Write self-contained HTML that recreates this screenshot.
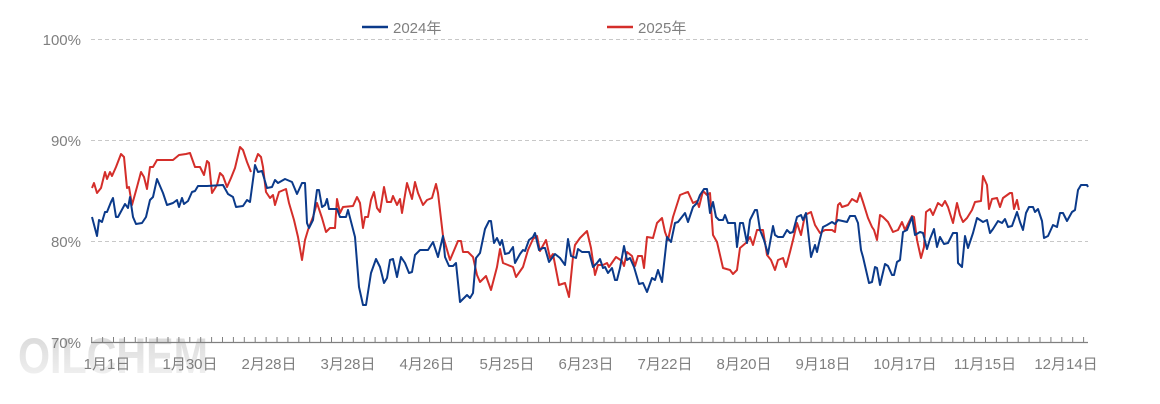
<!DOCTYPE html>
<html><head><meta charset="utf-8"><style>
html,body{margin:0;padding:0;background:#fff;}
svg{display:block;font-family:"Liberation Sans","Noto Sans CJK SC",sans-serif;}
</style></head><body>
<svg width="1160" height="404" viewBox="0 0 1160 404" xmlns="http://www.w3.org/2000/svg">
<defs><linearGradient id="wm" x1="0" y1="0" x2="0" y2="1"><stop offset="0" stop-color="#d6d6d6"/><stop offset="1" stop-color="#f4f4f4"/></linearGradient></defs>
<text x="18" y="373" font-size="50" font-weight="bold" fill="url(#wm)" textLength="190" lengthAdjust="spacingAndGlyphs">OILCHEM</text>
<g stroke="#c8c8c8" stroke-width="1" stroke-dasharray="4,3">
<line x1="91" y1="39.5" x2="1088" y2="39.5"/>
<line x1="91" y1="140.5" x2="1088" y2="140.5"/>
<line x1="91" y1="241.5" x2="1088" y2="241.5"/>
</g>
<g font-size="15" fill="#7f7f7f" text-anchor="end">
<text x="81" y="45">100%</text>
<text x="81" y="146">90%</text>
<text x="81" y="247">80%</text>
<text x="81" y="348">70%</text>
</g>
<line x1="91" y1="342.5" x2="1088" y2="342.5" stroke="#808080" stroke-width="1.3"/>
<path id="ticks" stroke="#808080" stroke-width="1" d="M91.7 337V342M102.6 337V342M113.5 337V342M124.4 337V342M135.3 337V342M146.2 337V342M157.1 337V342M168 337V342M178.9 337V342M189.8 337V342M200.7 337V342M211.6 337V342M222.5 337V342M233.4 337V342M244.3 337V342M255.2 337V342M266.1 337V342M277 337V342M287.9 337V342M298.8 337V342M309.7 337V342M320.6 337V342M331.5 337V342M342.4 337V342M353.3 337V342M364.2 337V342M375.1 337V342M386 337V342M396.9 337V342M407.8 337V342M418.7 337V342M429.6 337V342M440.5 337V342M451.4 337V342M462.3 337V342M473.2 337V342M484.1 337V342M495 337V342M505.9 337V342M516.8 337V342M527.7 337V342M538.6 337V342M549.5 337V342M560.4 337V342M571.3 337V342M582.2 337V342M593.1 337V342M604 337V342M614.9 337V342M625.8 337V342M636.7 337V342M647.6 337V342M658.5 337V342M669.4 337V342M680.3 337V342M691.2 337V342M702.1 337V342M713 337V342M723.9 337V342M734.8 337V342M745.7 337V342M756.6 337V342M767.5 337V342M778.4 337V342M789.3 337V342M800.2 337V342M811.1 337V342M822 337V342M832.9 337V342M843.8 337V342M854.7 337V342M865.6 337V342M876.5 337V342M887.4 337V342M898.3 337V342M909.2 337V342M920.1 337V342M931 337V342M941.9 337V342M952.8 337V342M963.7 337V342M974.6 337V342M985.5 337V342M996.4 337V342M1007.3 337V342M1018.2 337V342M1029.1 337V342M1040 337V342M1050.9 337V342M1061.8 337V342M1072.7 337V342M1083.6 337V342"/>
<g font-size="15" fill="#7f7f7f" text-anchor="middle">
<text x="107" y="369">1月1日</text>
<text x="190" y="369">1月30日</text>
<text x="269" y="369">2月28日</text>
<text x="348" y="369">3月28日</text>
<text x="427" y="369">4月26日</text>
<text x="507" y="369">5月25日</text>
<text x="586" y="369">6月23日</text>
<text x="665" y="369">7月22日</text>
<text x="744" y="369">8月20日</text>
<text x="823" y="369">9月18日</text>
<text x="905" y="369">10月17日</text>
<text x="985" y="369">11月15日</text>
<text x="1066" y="369">12月14日</text>
</g>
<line x1="362" y1="27" x2="388" y2="27" stroke="#0b3a8a" stroke-width="2.5"/>
<text x="393" y="33" font-size="15" fill="#7f7f7f">2024年</text>
<line x1="607" y1="27" x2="633" y2="27" stroke="#d42e2a" stroke-width="2.5"/>
<text x="638" y="33" font-size="15" fill="#7f7f7f">2025年</text>
<g fill="none" stroke-width="2" stroke-linejoin="round">
<polyline stroke="#d42e2a" points="92,188 94,183 97,193 101,188 105,172 107,179 110,172 112,176 116,167 121,154 124,157 127,188 129,187 132,205 137,187 141,172 144,177 147,189 150,167 153,167 157,160 173,160 179,155 186,154 190,153 195,167 200,167 204,175 207,161 209,163 212,193 217,185 220,173 223,176 227,187 231,178 235,168 240,147 243,150 247,162 251,172"/>
<polyline stroke="#d42e2a" points="255,162 258,154 261,157 263,167 266,192 270,198 273,195 275,205 279,192 286,189 289,203 294,220 298,237 302,260 305,240 308,230 313,217 317,203 322,218 326,232 330,228 335,228 337,199 340,213 343,207 353,206 357,197 360,203 363,228 365,217 368,217 371,200 374,192 377,208 380,212 384,187 387,202 391,202 393,196 397,205 400,199 402,213 407,183 412,199 415,182 418,193 423,205 427,200 432,198 436,184 438,193 443,236 450,260 458,241 461,241 463,252 468,252 473,257 477,275 480,282 486,276 491,290 497,267 500,249 503,263 508,265 513,267 516,277 523,267 528,250 533,239 537,236 540,251 546,240 550,258 553,254 559,285 565,283 569,297 573,257 575,245 580,238 587,231 591,248 595,275 598,265 603,265 607,263 609,267 616,257 622,261 624,266 627,252 632,256 635,266 638,256 642,256 644,268 647,237 653,238 657,223 662,218 665,232 668,240 673,217 680,195 685,193 688,192 693,203 697,201 699,207 703,191 707,195 710,193 713,235 717,242 723,268 730,270 733,274 737,270 740,248 747,242 750,237 753,245 757,230 763,230 767,255 771,260 775,270 778,260 783,258 786,267 790,252 793,240 797,223 801,235 805,215 811,212 815,225 820,233 825,230 832,230 835,232 838,205 840,203 842,207 848,205 852,199 857,202 860,193 863,202 868,218 872,227 874,230 877,240 880,215 883,217 888,222 893,232 898,230 902,222 905,230 908,224 912,216 914,217 917,240 921,258 924,247 926,212 930,209 933,215 938,203 942,206 945,201 948,207 953,223 957,203 960,215 963,222 967,218 972,210 975,202 981,201 983,176 987,185 989,209 992,199 997,198 1000,207 1003,198 1010,193 1012,193 1014,209 1017,200 1019,210"/>
<polyline stroke="#0b3a8a" points="92,217 97,236 99,220 102,222 105,212 107,212 111,202 113,198 116,217 118,217 125,204 128,208 130,197 133,217 136,224 142,223 146,217 150,200 153,197 157,179 163,193 167,205 173,203 177,200 179,207 182,198 184,204 188,201 192,192 195,191 198,186 207,186 223,185 228,194 233,197 236,207 243,206 247,200 250,202 255,165 258,172 262,171 267,188 272,187 275,180 278,183 285,179 292,182 297,194 302,183 305,183 307,223 309,228 313,220 317,190 319,190 322,207 325,205 327,199 329,209 337,209 340,217 346,217 348,210 355,237 359,287 363,305 366,305 371,273 376,259 380,267 384,283 387,278 390,260 393,259 397,277 401,257 405,263 409,273 412,272 415,255 420,250 428,250 433,242 438,257 443,236 445,257 449,266 453,266 456,263 460,302 467,295 470,298 473,293 476,258 480,253 485,229 489,221 491,221 494,243 497,238 500,245 502,240 505,254 509,253 513,247 515,263 520,254 523,250 525,251 529,240 533,237 535,233 539,250 543,248 545,248 549,262 555,254 560,258 565,265 568,239 571,256 576,258 578,249 582,252 589,252 593,267 597,263 600,259 603,268 605,267 608,273 612,268 615,280 617,280 620,268 624,246 627,260 630,258 634,267 639,284 643,283 647,292 652,278 655,280 658,270 662,282 667,237 671,242 675,223 678,222 685,213 688,222 693,207 697,203 700,195 704,189 707,189 710,213 713,202 716,217 719,220 723,220 725,215 728,223 735,223 737,247 740,223 743,223 747,243 750,220 755,210 757,210 760,230 764,240 768,254 773,226 775,235 778,237 783,237 787,230 790,233 793,232 797,217 801,215 803,220 806,213 811,257 815,245 817,252 819,243 823,227 827,225 832,222 835,224 838,220 847,222 850,216 855,216 858,223 861,250 863,257 869,283 872,282 875,267 877,268 880,285 885,264 888,266 892,275 894,275 897,262 900,260 903,232 907,230 912,217 915,235 920,232 923,233 927,249 930,239 934,229 937,247 940,237 944,244 948,243 953,233 957,233 958,263 962,267 965,236 968,248 973,233 977,218 983,222 987,220 990,233 993,229 998,221 1002,223 1005,219 1008,227 1012,226 1017,212 1020,222 1023,230 1026,213 1029,207 1033,207 1035,212 1038,209 1042,221 1044,238 1048,236 1053,225 1057,227 1060,213 1063,213 1067,221 1072,212 1075,210 1078,190 1081,185 1087,185 1088,187"/>
</g>
</svg>
</body></html>
